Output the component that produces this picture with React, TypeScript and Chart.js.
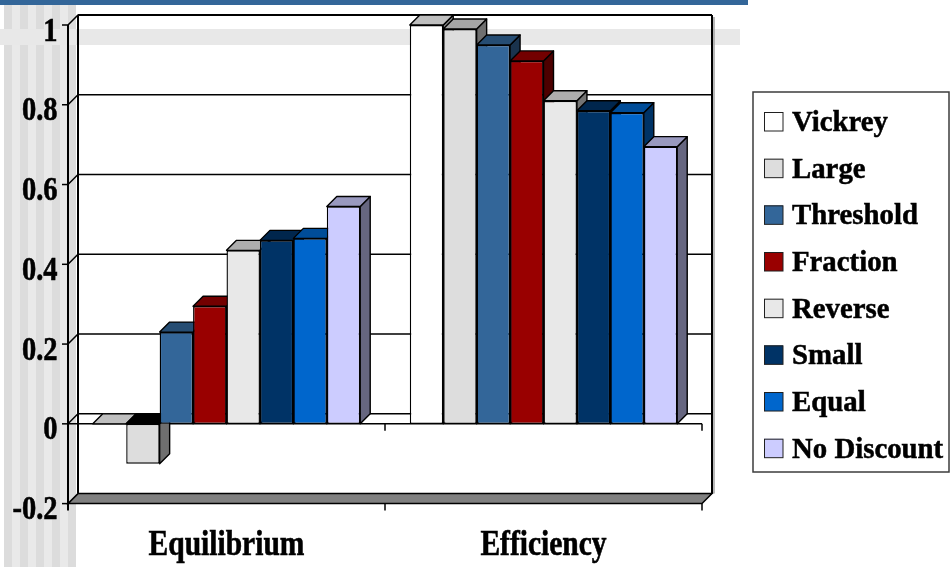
import React, { useEffect, useRef } from 'react';
import { Chart, registerables } from 'chart.js';

Chart.register(...registerables);

// ---- data ----
const categories = ['Equilibrium', 'Efficiency'];
const seriesLabels = ['Vickrey', 'Large', 'Threshold', 'Fraction', 'Reverse', 'Small', 'Equal', 'No Discount'];
const vickreyValues = [0, 1.0];
const largeValues = [-0.1, 0.99];
const thresholdValues = [0.23, 0.95];
const fractionValues = [0.295, 0.91];
const reverseValues = [0.435, 0.81];
const smallValues = [0.46, 0.785];
const equalValues = [0.465, 0.78];
const noDiscountValues = [0.545, 0.695];
const seriesValues = [
  vickreyValues,
  largeValues,
  thresholdValues,
  fractionValues,
  reverseValues,
  smallValues,
  equalValues,
  noDiscountValues,
];
const seriesColors = ['#FFFFFF', '#DDDDDD', '#336699', '#990000', '#E8E8E8', '#003366', '#0066CC', '#CCCCFF'];
const yTickValues = [-0.2, 0, 0.2, 0.4, 0.6, 0.8, 1];
const yTickLabels = ['-0.2', '0', '0.2', '0.4', '0.6', '0.8', '1'];

// depth offset of the pseudo-3D walls and bars
const DX = 10;
const DY = -10;
const FONT_FAMILY = '"Liberation Serif", "Times New Roman", serif';

function shade(hex: string, f: number): string {
  const n = parseInt(hex.slice(1), 16);
  const r = Math.round(((n >> 16) & 255) * f);
  const g = Math.round(((n >> 8) & 255) * f);
  const b = Math.round((n & 255) * f);
  return `rgb(${r},${g},${b})`;
}

function tallText(
  ctx: CanvasRenderingContext2D,
  text: string,
  x: number,
  y: number,
  size: number,
  sy: number,
  align: CanvasTextAlign
) {
  ctx.save();
  ctx.font = `bold ${size}px ${FONT_FAMILY}`;
  ctx.textAlign = align;
  ctx.textBaseline = 'alphabetic';
  ctx.fillStyle = '#000';
  ctx.strokeStyle = '#000';
  ctx.lineWidth = 0.5;
  ctx.translate(x, y);
  ctx.scale(1, sy);
  ctx.fillText(text, 0, 0);
  ctx.strokeText(text, 0, 0);
  ctx.restore();
}

function poly(ctx: CanvasRenderingContext2D, pts: number[][], fill: string) {
  ctx.beginPath();
  ctx.moveTo(pts[0][0], pts[0][1]);
  for (let i = 1; i < pts.length; i++) ctx.lineTo(pts[i][0], pts[i][1]);
  ctx.closePath();
  ctx.fillStyle = fill;
  ctx.fill();
  ctx.stroke();
}

function line(ctx: CanvasRenderingContext2D, x1: number, y1: number, x2: number, y2: number) {
  ctx.beginPath();
  ctx.moveTo(x1, y1);
  ctx.lineTo(x2, y2);
  ctx.stroke();
}

// slide backdrop: title band, striped margin and light rule
const backdropPlugin = {
  id: 'backdrop',
  beforeDraw(chart: any) {
    const ctx: CanvasRenderingContext2D = chart.ctx;
    const { width, height } = chart;
    ctx.save();
    ctx.fillStyle = '#FFFFFF';
    ctx.fillRect(0, 0, width, height);
    for (let x = 4; x < 76; x += 16) {
      ctx.fillStyle = '#DCDCDC';
      ctx.fillRect(x, 0, Math.min(8, 76 - x), height);
      ctx.fillStyle = '#E9E9E9';
      ctx.fillRect(x + 8, 0, Math.min(8, Math.max(0, 76 - x - 8)), height);
    }
    ctx.fillStyle = '#E8E8E8';
    ctx.fillRect(0, 29, 740, 16);
    ctx.fillStyle = '#336699';
    ctx.fillRect(0, 0, 748, 5);
    ctx.restore();
  },
};

// walls, floor, gridlines and axes of the 3D frame
const framePlugin = {
  id: 'frame3d',
  beforeDatasetsDraw(chart: any) {
    const ctx: CanvasRenderingContext2D = chart.ctx;
    const { left, right, top } = chart.chartArea;
    const yScale = chart.scales.y;
    const xScale = chart.scales.x;
    const yp = (v: number) => yScale.getPixelForValue(v);
    const fy = yp(yTickValues[0]);
    const zy = yp(0);
    ctx.save();
    ctx.strokeStyle = '#000';
    ctx.lineJoin = 'miter';

    // floor slab
    ctx.lineWidth = 1.5;
    poly(ctx, [[left, fy], [right, fy], [right + DX, fy + DY], [left + DX, fy + DY]], '#808080');

    // gridlines on the back wall
    ctx.lineWidth = 1.5;
    for (let i = 1; i < yTickValues.length; i++) {
      const py = yp(yTickValues[i]);
      ctx.beginPath();
      ctx.moveTo(left, py);
      ctx.lineTo(left + DX, py + DY);
      ctx.lineTo(right + DX, py + DY);
      ctx.stroke();
    }

    // wall edges
    ctx.lineWidth = 2;
    line(ctx, left + DX, top + DY, right + DX, top + DY);
    line(ctx, left + DX, top + DY, left + DX, fy + DY);
    line(ctx, right + DX, top + DY, right + DX, fy + DY);
    ctx.save();
    ctx.strokeStyle = '#A0A0A0';
    ctx.lineWidth = 1.5;
    line(ctx, right + DX + 2, top + DY + 2, right + DX + 2, fy + DY);
    ctx.restore();

    // front value axis and ticks
    line(ctx, left, top, left, fy + 7);
    ctx.lineWidth = 1.5;
    for (const v of yTickValues) {
      const py = yp(v);
      line(ctx, left - 6, py, left, py);
    }

    // category axis at zero and tick marks on the floor
    line(ctx, left, zy, right, zy);
    const mid = (xScale.getPixelForTick(0) + xScale.getPixelForTick(1)) / 2;
    for (const b of [mid, right]) {
      line(ctx, b, zy, b, zy + 7);
      line(ctx, b, fy, b, fy + 7);
    }
    ctx.restore();
  },
};

// bars are painted left to right: front face, then side and top faces,
// so each bar covers the depth faces of its left neighbour
const barDepthPlugin = {
  id: 'barDepth',
  beforeDatasetDraw() {
    return false;
  },
  afterDatasetsDraw(chart: any) {
    const ctx: CanvasRenderingContext2D = chart.ctx;
    const area = chart.chartArea;
    chart.data.datasets.forEach((ds: any, i: number) => {
      const meta = chart.getDatasetMeta(i);
      const color = ds.backgroundColor as string;
      meta.data.forEach((el: any, j: number) => {
        el.draw(ctx, area);
        const p = el.getProps(['x', 'y', 'base', 'width'], true);
        const l = p.x - p.width / 2;
        const r = p.x + p.width / 2;
        const t = Math.min(p.y, p.base);
        const b = Math.max(p.y, p.base);
        const value = ds.data[j] as number;
        ctx.save();
        ctx.strokeStyle = '#000';
        ctx.lineWidth = 1.4;
        ctx.lineJoin = 'round';
        if (b - t > 0.5) {
          poly(ctx, [[r, t], [r, b], [r + DX, b + DY], [r + DX, t + DY]], shade(color, 0.5));
        }
        const topColor = value < 0 ? '#000000' : shade(color, 0.75);
        poly(ctx, [[l, t], [r, t], [r + DX, t + DY], [l + DX, t + DY]], topColor);
        ctx.restore();
      });
    });
  },
};

// tick labels, category names and the boxed legend
const labelsPlugin = {
  id: 'labels3d',
  afterDraw(chart: any) {
    const ctx: CanvasRenderingContext2D = chart.ctx;
    const yScale = chart.scales.y;
    const xScale = chart.scales.x;
    const { left } = chart.chartArea;

    yTickValues.forEach((v, i) => {
      tallText(ctx, yTickLabels[i], left - 10.5, yScale.getPixelForValue(v) + 15.5, 28.5, 1.19, 'right');
    });

    categories.forEach((c, i) => {
      tallText(ctx, c, xScale.getPixelForTick(i), 555, 29.5, 1.18, 'center');
    });

    // legend
    const bx = 753;
    const by = 92;
    const bw = 196;
    const bh = 380;
    ctx.save();
    ctx.fillStyle = '#FFFFFF';
    ctx.fillRect(bx, by, bw, bh);
    ctx.strokeStyle = '#3C3C3C';
    ctx.lineWidth = 1.5;
    ctx.strokeRect(bx, by, bw, bh);
    ctx.restore();
    chart.data.datasets.forEach((ds: any, i: number) => {
      const base = 131 + i * 46.67;
      ctx.save();
      ctx.fillStyle = ds.backgroundColor;
      ctx.strokeStyle = '#202020';
      ctx.lineWidth = 1;
      ctx.fillRect(764, base - 19, 19, 19);
      ctx.strokeRect(764.5, base - 18.5, 18.5, 18.5);
      ctx.restore();
      tallText(ctx, ds.label, 792, base, 28.8, 1.05, 'left');
    });
  },
};

export default function App() {
  const canvasRef = useRef<HTMLCanvasElement | null>(null);

  useEffect(() => {
    const canvas = canvasRef.current;
    if (!canvas) return;
    const chart = new Chart(canvas, {
      type: 'bar',
      data: {
        labels: categories,
        datasets: seriesLabels.map((label, i) => ({
          label,
          data: seriesValues[i],
          backgroundColor: seriesColors[i],
          borderColor: '#000000',
          borderWidth: 1.4,
          borderSkipped: false,
          categoryPercentage: 0.8436,
          barPercentage: 1,
        })),
      },
      options: {
        responsive: false,
        maintainAspectRatio: false,
        animation: false,
        devicePixelRatio: 1,
        events: [],
        layout: { padding: { left: 68, top: 25, right: 249, bottom: 63.4 } },
        plugins: {
          legend: { display: false },
          title: { display: false },
          tooltip: { enabled: false },
        },
        scales: {
          x: { display: false, offset: true },
          y: {
            display: false,
            min: yTickValues[0],
            max: yTickValues[yTickValues.length - 1],
            ticks: { stepSize: 0.2 },
          },
        },
      },
      plugins: [backdropPlugin, framePlugin, barDepthPlugin, labelsPlugin],
    });
    return () => chart.destroy();
  }, []);

  return (
    <div style={{ position: 'absolute', left: 0, top: 0, width: 951, height: 567, overflow: 'hidden' }}>
      <canvas ref={canvasRef} width={951} height={567} style={{ display: 'block', width: 951, height: 567 }} />
    </div>
  );
}
